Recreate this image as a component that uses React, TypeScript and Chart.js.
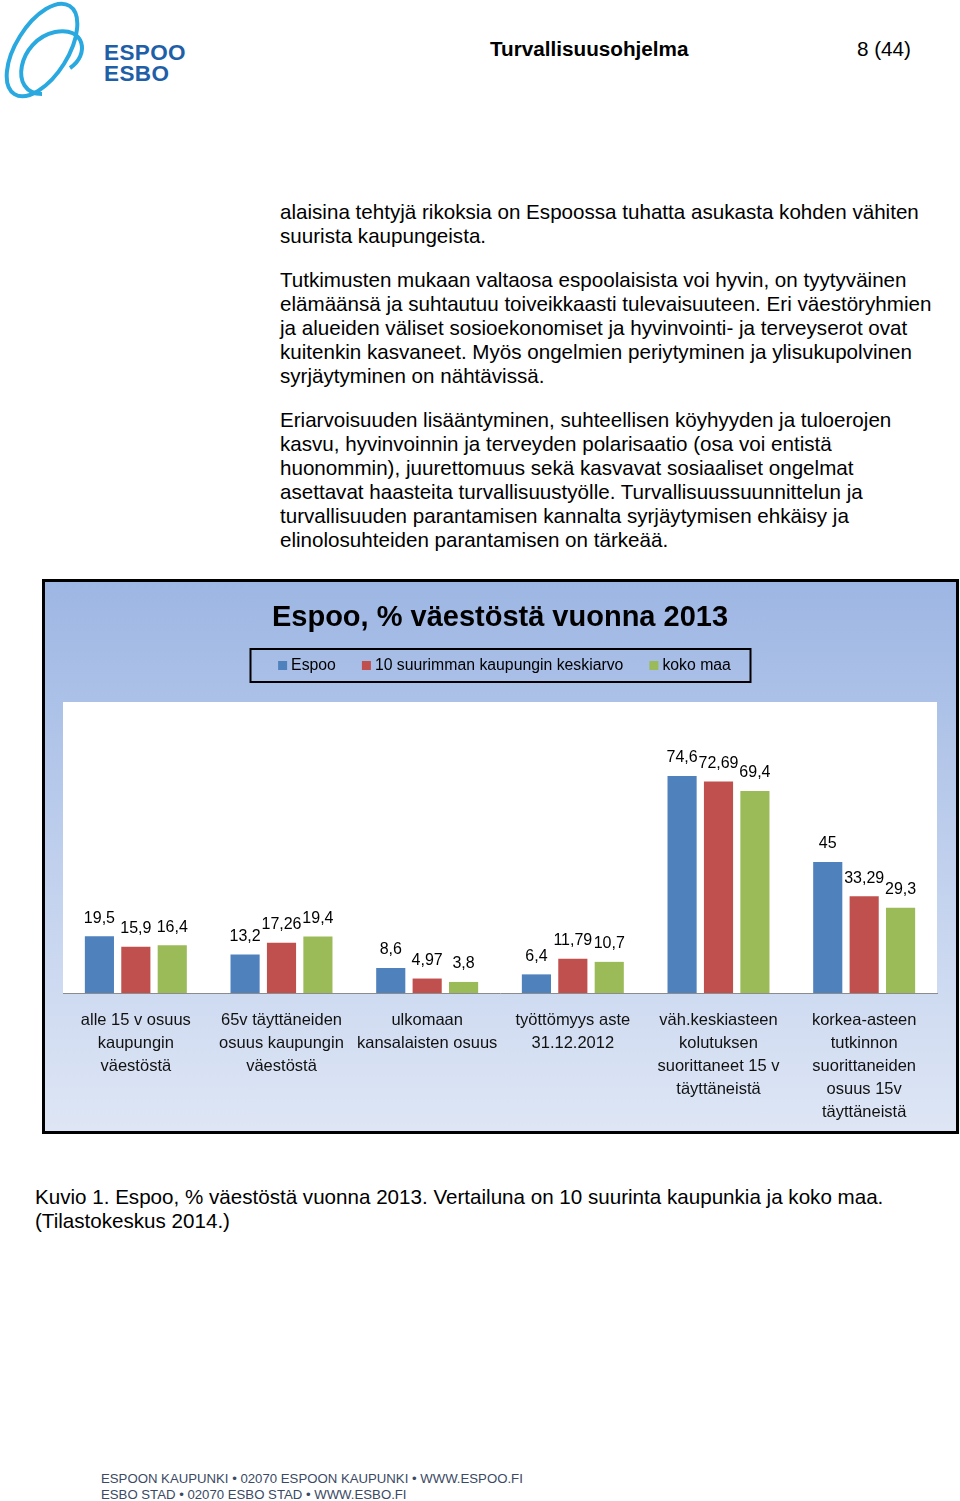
import React, { useEffect, useRef } from "react";
import { Chart, registerables } from "chart.js";

Chart.register(...registerables);

// ---- data ----
const TITLE = "Espoo, % väestöstä vuonna 2013";
const CATEGORIES: string[][] = [
  ["alle 15 v osuus", "kaupungin", "väestöstä"],
  ["65v täyttäneiden", "osuus kaupungin", "väestöstä"],
  ["ulkomaan", "kansalaisten osuus"],
  ["työttömyys aste", "31.12.2012"],
  ["väh.keskiasteen", "kolutuksen", "suorittaneet 15 v", "täyttäneistä"],
  ["korkea-asteen", "tutkinnon", "suorittaneiden", "osuus 15v", "täyttäneistä"],
];
const SERIES_NAMES = ["Espoo", "10 suurimman kaupungin keskiarvo", "koko maa"];
const ESPOO = [19.5, 13.2, 8.6, 6.4, 74.6, 45];
const TOP10_AVG = [15.9, 17.26, 4.97, 11.79, 72.69, 33.29];
const WHOLE_COUNTRY = [16.4, 19.4, 3.8, 10.7, 69.4, 29.3];
const COLORS = ["#4F81BD", "#C0504D", "#9BBB59"];
const Y_MIN = 0;
const Y_MAX = 100;

const FONT = "'Liberation Sans', Arial, Helvetica, sans-serif";

const fmt = (v: number) => String(v).replace(".", ",");

const plotBgPlugin = {
  id: "plotBg",
  beforeDraw(chart: any) {
    const { ctx, chartArea } = chart;
    ctx.save();
    ctx.fillStyle = "#ffffff";
    ctx.fillRect(chartArea.left, chartArea.top, chartArea.right - chartArea.left, chartArea.bottom - chartArea.top);
    ctx.restore();
  },
};

const valueLabelPlugin = {
  id: "valueLabels",
  afterDatasetsDraw(chart: any) {
    const { ctx } = chart;
    ctx.save();
    ctx.font = `16px ${FONT}`;
    ctx.fillStyle = "#000000";
    ctx.textAlign = "center";
    ctx.textBaseline = "middle";
    chart.data.datasets.forEach((ds: any, di: number) => {
      const meta = chart.getDatasetMeta(di);
      meta.data.forEach((bar: any, i: number) => {
        ctx.fillText(fmt(ds.data[i]), bar.x, bar.y - 18);
      });
    });
    ctx.restore();
  },
};

const boxedLegendPlugin = {
  id: "boxedLegend",
  afterDraw(chart: any) {
    const { ctx, width } = chart;
    const cx = width / 2;
    const top = 67;
    const h = 33;
    const w = 500;
    ctx.save();
    ctx.strokeStyle = "#000000";
    ctx.lineWidth = 2;
    ctx.strokeRect(cx - w / 2, top, w, h);
    ctx.font = `15.8px ${FONT}`;
    ctx.textBaseline = "middle";
    ctx.textAlign = "left";
    const box = 9;
    const gap = 4;
    const spacing = 26;
    const items = chart.data.datasets.map((ds: any) => ({
      label: ds.label as string,
      color: ds.backgroundColor as string,
      w: box + gap + ctx.measureText(ds.label).width,
    }));
    const total = items.reduce((s: number, it: any) => s + it.w, 0) + spacing * (items.length - 1);
    let x = cx + 4 - total / 2;
    const cy = top + h / 2;
    items.forEach((it: any) => {
      ctx.fillStyle = it.color;
      ctx.fillRect(x, cy - box / 2, box, box);
      ctx.fillStyle = "#000000";
      ctx.fillText(it.label, x + box + gap, cy + 0.5);
      x += it.w + spacing;
    });
    ctx.restore();
  },
};

function BarChart() {
  const ref = useRef<HTMLCanvasElement | null>(null);
  useEffect(() => {
    if (!ref.current) return;
    const chart = new Chart(ref.current, {
      type: "bar",
      data: {
        labels: CATEGORIES,
        datasets: [
          { label: SERIES_NAMES[0], data: ESPOO, backgroundColor: COLORS[0] },
          { label: SERIES_NAMES[1], data: TOP10_AVG, backgroundColor: COLORS[1] },
          { label: SERIES_NAMES[2], data: WHOLE_COUNTRY, backgroundColor: COLORS[2] },
        ],
      },
      options: {
        responsive: false,
        animation: false,
        devicePixelRatio: 1,
        layout: { padding: { left: 18, right: 19, top: 0, bottom: -9 } },
        datasets: { bar: { categoryPercentage: 0.75, barPercentage: 0.8 } },
        plugins: {
          legend: { display: false },
          tooltip: { enabled: false },
          title: {
            display: true,
            text: TITLE,
            color: "#000000",
            font: { family: FONT, size: 29, weight: "bold", lineHeight: 1 },
            padding: { top: 21.5, bottom: 69.5 },
          },
        },
        scales: {
          x: {
            grid: { display: false, drawTicks: false },
            border: { display: true, color: "#8c8c8c", width: 1 },
            ticks: {
              color: "#111111",
              padding: 16,
              maxRotation: 0,
              autoSkip: false,
              font: { family: FONT, size: 16.5, lineHeight: 23 / 16.5 },
            },
          },
          y: { display: false, min: Y_MIN, max: Y_MAX },
        },
      },
      plugins: [plotBgPlugin, valueLabelPlugin, boxedLegendPlugin],
    } as any);
    return () => chart.destroy();
  }, []);
  return <canvas ref={ref} width={911} height={549} style={{ display: "block", width: 911, height: 549 }} />;
}

const P1 = [
  "alaisina tehtyjä rikoksia on Espoossa tuhatta asukasta kohden vähiten",
  "suurista kaupungeista.",
];
const P2 = [
  "Tutkimusten mukaan valtaosa espoolaisista voi hyvin, on tyytyväinen",
  "elämäänsä ja suhtautuu toiveikkaasti tulevaisuuteen. Eri väestöryhmien",
  "ja alueiden väliset sosioekonomiset ja hyvinvointi- ja terveyserot ovat",
  "kuitenkin kasvaneet. Myös ongelmien periytyminen ja ylisukupolvinen",
  "syrjäytyminen on nähtävissä.",
];
const P3 = [
  "Eriarvoisuuden lisääntyminen, suhteellisen köyhyyden ja tuloerojen",
  "kasvu, hyvinvoinnin ja terveyden polarisaatio (osa voi entistä",
  "huonommin), juurettomuus sekä kasvavat sosiaaliset ongelmat",
  "asettavat haasteita turvallisuustyölle. Turvallisuussuunnittelun ja",
  "turvallisuuden parantamisen kannalta syrjäytymisen ehkäisy ja",
  "elinolosuhteiden parantamisen on tärkeää.",
];
const CAPTION = [
  "Kuvio 1. Espoo, % väestöstä vuonna 2013. Vertailuna on 10 suurinta kaupunkia ja koko maa.",
  "(Tilastokeskus 2014.)",
];
const FOOTER = [
  "ESPOON KAUPUNKI • 02070 ESPOON KAUPUNKI • WWW.ESPOO.FI",
  "ESBO STAD • 02070 ESBO STAD • WWW.ESBO.FI",
];

function Lines({ lines, top, left, size, lh, color }: any) {
  return (
    <div style={{ position: "absolute", top, left, fontSize: size, lineHeight: `${lh}px`, color, whiteSpace: "nowrap" }}>
      {lines.map((l: string, i: number) => (
        <div key={i}>{l}</div>
      ))}
    </div>
  );
}

export default function App() {
  return (
    <div
      style={{
        position: "absolute",
        left: 0,
        top: 0,
        width: 960,
        height: 1501,
        background: "#ffffff",
        fontFamily: FONT,
        color: "#000",
        overflow: "hidden",
      }}
    >
      {/* logo */}
      <svg width={200} height={100} style={{ position: "absolute", left: 0, top: 0 }}>
        <g fill="none" stroke="#2AA9E0" strokeWidth={4}>
          <ellipse cx={42} cy={50} rx={52} ry={26} transform="rotate(-58 42 50)" />
          <path d="M 42 94 C 8 94, 18 40, 55 32 C 85 26, 90 55, 70 68" />
        </g>
        <text x={104} y={60} fill="#1F5FA8" fontFamily={FONT} fontWeight="bold" fontSize={22.5} letterSpacing={0.4}>ESPOO</text>
        <text x={104} y={81} fill="#1F5FA8" fontFamily={FONT} fontWeight="bold" fontSize={22.5} letterSpacing={0.4}>ESBO</text>
      </svg>
      <div style={{ position: "absolute", left: 490, top: 37, fontSize: 20.7, fontWeight: "bold", lineHeight: "24px" }}>
        Turvallisuusohjelma
      </div>
      <div style={{ position: "absolute", right: 49, top: 37, fontSize: 20.7, lineHeight: "24px" }}>8 (44)</div>

      <Lines lines={P1} top={200} left={280} size={20.6} lh={23.9} color="#000" />
      <Lines lines={P2} top={268} left={280} size={20.6} lh={23.9} color="#000" />
      <Lines lines={P3} top={408} left={280} size={20.6} lh={23.9} color="#000" />

      {/* chart frame */}
      <div
        style={{
          position: "absolute",
          left: 42,
          top: 579,
          width: 917,
          height: 555,
          boxSizing: "border-box",
          border: "3px solid #000",
          background: "linear-gradient(to bottom, #9DB6E3 0%, #BCCDEC 45%, #DEE6F5 100%)",
        }}
      >
        <BarChart />
      </div>

      <Lines lines={CAPTION} top={1185} left={35} size={20.6} lh={24} color="#000" />
      <Lines lines={FOOTER} top={1471} left={101} size={13.2} lh={16} color="#3A4964" />
    </div>
  );
}
